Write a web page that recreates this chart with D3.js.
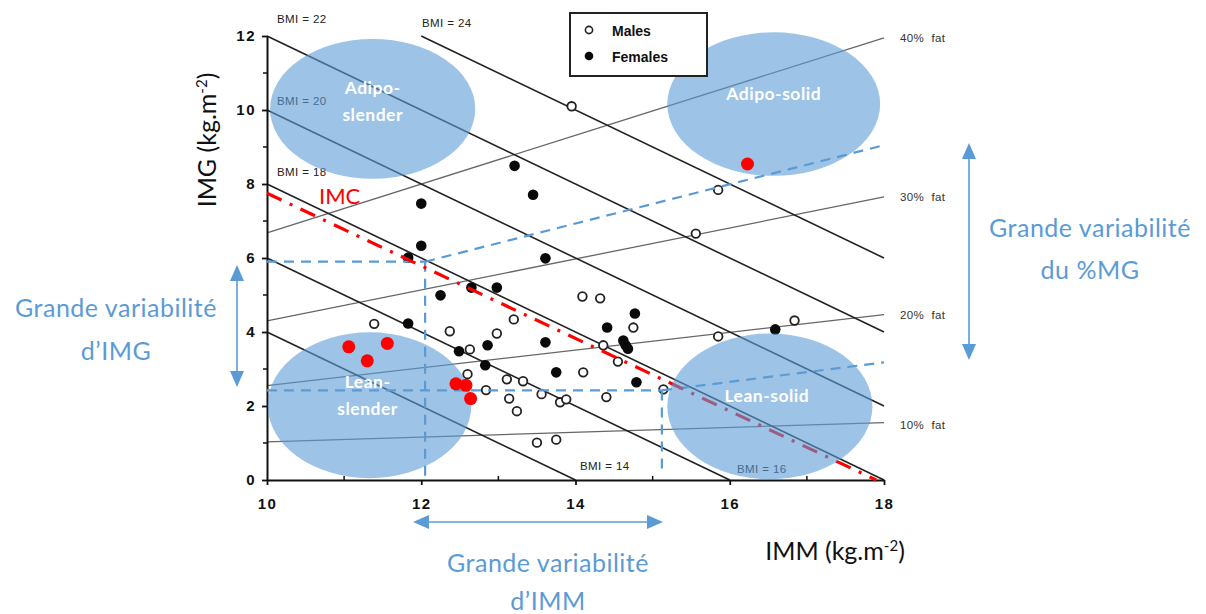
<!DOCTYPE html>
<html><head><meta charset="utf-8">
<script src="https://cdn.jsdelivr.net/npm/d3@7"></script>
<style>
html,body{margin:0;padding:0;background:#fff;}
svg{display:block;}
</style></head>
<body>
<svg id="chart" width="1206" height="614"></svg>
<script>
// ---------- data ----------
// Males: open circles [IMM, IMG]
const males = [
  [13.95,10.1],[15.85,7.84],[15.56,6.66],[11.39,4.22],[13.2,4.34],[12.37,4.02],
  [12.98,3.96],[12.63,3.53],[14.09,4.96],[14.32,4.91],[14.75,4.12],[14.36,3.64],
  [14.55,3.2],[14.1,2.91],[12.6,2.86],[13.11,2.72],[13.32,2.67],[12.84,2.43],
  [13.14,2.2],[13.24,1.86],[13.56,2.32],[13.8,2.1],[13.88,2.18],[14.4,2.24],
  [15.14,2.45],[13.5,1.01],[13.75,1.09],[15.85,3.88],[16.84,4.31]
];
// Females: filled circles
const females = [
  [13.21,8.49],[13.45,7.71],[12.0,7.47],[12.0,6.33],[11.83,6.01],[13.61,5.99],
  [12.65,5.2],[12.98,5.2],[12.25,4.99],[11.83,4.23],[12.86,3.64],[13.61,3.72],
  [12.49,3.48],[12.83,3.1],[14.77,4.5],[14.41,4.12],[14.62,3.77],[14.65,3.64],
  [14.68,3.55],[13.75,2.91],[14.79,2.64],[16.59,4.07]
];
// Highlighted (red) subjects
const highlighted = [
  [11.06,3.6],[11.3,3.22],[11.56,3.69],[12.45,2.6],[12.58,2.56],[12.64,2.2],[16.23,8.54]
];
// BMI iso-lines (IMG = BMI - IMM)
const bmiLevels = [14,16,18,20,22,24];
const bmiLabels = ["BMI = 14","BMI = 16","BMI = 18","BMI = 20","BMI = 22","BMI = 24"];
// %fat lines: IMG at IMM=10 and IMM=18 as drawn
const fatLabels = ["10%  fat","20%  fat","30%  fat","40%  fat"];
const fatStart = [1.03,2.55,4.3,6.68];
const fatEnd   = [1.55,4.47,7.65,11.95];
// IMC line endpoints [IMM, IMG]
const imcLine = [[10,7.75],[17.9,0]];
// blue dashed guide lines
const blueLines = [
  [[10,5.9],[12.05,5.9]],[[12.05,5.9],[12.05,0]],[[12.05,5.9],[18,9.05]],
  [[10,2.42],[15.12,2.42]],[[15.12,2.42],[15.12,0.2]],[[15.12,2.42],[18,3.18]]
];
// zones: name lines, centre [IMM, IMG], radii [IMM units, IMG units]
const zoneNames = [["Adipo-","slender"],["Adipo-solid"],["Lean-","slender"],["Lean-solid"]];
const zoneCentres = [[11.37,10.03],[16.57,10.16],[11.33,2.02],[16.52,1.99]];
const zoneRadii = [[1.33,1.89],[1.38,1.94],[1.32,1.97],[1.33,1.97]];
const xTicks = [10,12,14,16,18];
const yTicks = [0,2,4,6,8,10,12];
const xMinor = [11,13,15,17];
const yMinor = [1,3,5,7,9,11];

// ---------- drawing ----------
const svg = d3.select("#chart");
const x = d3.scaleLinear().domain([10,18]).range([267,884]);
const y = d3.scaleLinear().domain([0,12]).range([480,36]);
const BLUE = "#5B9BD5";
const line = d3.line().x(d=>x(d[0])).y(d=>y(d[1]));

// fat lines
const gFat = svg.append("g");
fatStart.forEach((s,i)=>{
  gFat.append("path").attr("d", line([[10,s],[18,fatEnd[i]]]))
    .attr("fill","none").attr("stroke","#666").attr("stroke-width",1.3);
  gFat.append("text").attr("x",x(18)+16).attr("y",y(fatEnd[i])+4 + (i===0?2:0))
    .attr("font-family","Liberation Sans, Arial").attr("font-size",11.5).attr("fill","#333")
    .attr("letter-spacing",0.4).attr("xml:space","preserve")
    .text(fatLabels[i]);
});

// BMI lines
const gBmi = svg.append("g");
bmiLevels.forEach((b)=>{
  const x0 = Math.max(10, b-12), x1 = Math.min(18, b);
  gBmi.append("path").attr("d", line([[x0,b-x0],[x1,b-x1]]))
    .attr("fill","none").attr("stroke","#222").attr("stroke-width",1.6);
});
const bmiLabelPos = {14:[580,470],16:[737,473],18:[277,176],20:[277,105],22:[277,23],24:[422,27]};
bmiLevels.forEach((b,i)=>{
  gBmi.append("text").attr("x",bmiLabelPos[b][0]).attr("y",bmiLabelPos[b][1])
    .attr("font-family","Liberation Sans, Arial").attr("font-size",11.5).attr("fill","#222")
    .attr("letter-spacing",0.4)
    .text(bmiLabels[i]);
});

// axes
const gx = svg.append("g").attr("transform",`translate(0,${y(0)})`)
  .call(d3.axisBottom(x).tickValues(xTicks).tickSize(5).tickSizeOuter(0).tickPadding(10));
const gy = svg.append("g").attr("transform",`translate(${x(10)},0)`)
  .call(d3.axisLeft(y).tickValues(yTicks).tickSize(5).tickSizeOuter(0).tickPadding(6));
[gx,gy].forEach(g=>{
  g.select(".domain").attr("stroke","#111").attr("stroke-width",2);
  g.selectAll(".tick line").attr("stroke","#111").attr("stroke-width",1.8);
  g.selectAll(".tick text").attr("font-family","Liberation Sans, Arial").attr("font-weight","bold")
   .attr("font-size",15).attr("fill","#111").attr("letter-spacing",1.5);
});
gx.selectAll(".tick text").attr("dy","0.9em");
svg.append("g").selectAll("line").data(xMinor).join("line")
  .attr("x1",d=>x(d)).attr("x2",d=>x(d)).attr("y1",y(0)).attr("y2",y(0)-4)
  .attr("stroke","#111").attr("stroke-width",1.5);
svg.append("g").selectAll("line").data(yMinor).join("line")
  .attr("x1",x(10)-4).attr("x2",x(10)).attr("y1",d=>y(d)).attr("y2",d=>y(d))
  .attr("stroke","#111").attr("stroke-width",1.5);

// points
svg.append("g").selectAll("circle").data(males).join("circle")
  .attr("cx",d=>x(d[0])).attr("cy",d=>y(d[1])).attr("r",4.3)
  .attr("fill","#fff").attr("stroke","#222").attr("stroke-width",1.8);
svg.append("g").selectAll("circle").data(females).join("circle")
  .attr("cx",d=>x(d[0])).attr("cy",d=>y(d[1])).attr("r",5.3)
  .attr("fill","#0a0a0a");

// blue dashed lines
svg.append("g").selectAll("path").data(blueLines).join("path")
  .attr("d",line).attr("fill","none").attr("stroke",BLUE).attr("stroke-width",2.2)
  .attr("stroke-dasharray","10,7");

// IMC line
svg.append("path").attr("d",line(imcLine)).attr("fill","none").attr("stroke","#ff0000")
  .attr("stroke-width",3.2).attr("stroke-dasharray","16,9,3,9");
svg.append("text").attr("x",319).attr("y",204).attr("font-family","Lato, Carlito, sans-serif")
  .attr("font-size",22).attr("fill","#ff0000").text("IMC");

// zones (semi-transparent ellipses)
const gZ = svg.append("g");
zoneCentres.forEach((c,i)=>{
  gZ.append("ellipse").attr("cx",x(c[0])).attr("cy",y(c[1]))
    .attr("rx",x(c[0]+zoneRadii[i][0])-x(c[0])).attr("ry",y(c[1])-y(c[1]+zoneRadii[i][1]))
    .attr("fill",BLUE).attr("fill-opacity",0.6);
});

// highlighted subjects
svg.append("g").selectAll("circle").data(highlighted).join("circle")
  .attr("cx",d=>x(d[0])).attr("cy",d=>y(d[1])).attr("r",6.5).attr("fill","#ff0000");

// zone labels
const zoneOffsets = [[0,-21],[0,-10],[-2,-23],[-3,-10]];
zoneCentres.forEach((c,i)=>{
  const t = gZ.append("text").attr("text-anchor","middle")
    .attr("font-family","Lato, Carlito, sans-serif").attr("font-weight","bold")
    .attr("font-size",17.5).attr("letter-spacing",0.5).attr("fill","#fff");
  zoneNames[i].forEach((n,j)=>{
    t.append("tspan").attr("x",x(c[0])+zoneOffsets[i][0])
      .attr("y",y(c[1])+zoneOffsets[i][1]+6+j*27).text(n);
  });
});

// legend
const lg = svg.append("g");
lg.append("rect").attr("x",570).attr("y",13).attr("width",137).attr("height",63)
  .attr("fill","#fff").attr("stroke","#222").attr("stroke-width",2);
lg.append("circle").attr("cx",589).attr("cy",30).attr("r",3.6).attr("fill","#fff")
  .attr("stroke","#222").attr("stroke-width",1.6);
lg.append("circle").attr("cx",589).attr("cy",56).attr("r",4.3).attr("fill","#0a0a0a");
lg.append("text").attr("x",612).attr("y",36).attr("font-family","Liberation Sans, Arial")
  .attr("font-weight","bold").attr("font-size",14).attr("fill","#111").text("Males");
lg.append("text").attr("x",612).attr("y",62).attr("font-family","Liberation Sans, Arial")
  .attr("font-weight","bold").attr("font-size",14).attr("fill","#111").text("Females");

// axis titles
const xt = svg.append("text").attr("x",835).attr("y",560).attr("text-anchor","middle")
  .attr("font-family","Lato, Carlito, sans-serif").attr("font-size",25).attr("fill","#111");
xt.append("tspan").text("IMM (kg.m");
xt.append("tspan").attr("dy",-9).attr("font-size",15).text("-2");
xt.append("tspan").attr("dy",9).text(")");
const yt = svg.append("text").attr("transform","translate(216,140) rotate(-90)")
  .attr("text-anchor","middle")
  .attr("font-family","Lato, Carlito, sans-serif").attr("font-size",25).attr("fill","#111");
yt.append("tspan").text("IMG (kg.m");
yt.append("tspan").attr("dy",-9).attr("font-size",15).text("-2");
yt.append("tspan").attr("dy",9).text(")");

// variability arrows
function vArrow(cx, y0, y1){
  svg.append("line").attr("x1",cx).attr("x2",cx).attr("y1",y0+12).attr("y2",y1-12)
    .attr("stroke",BLUE).attr("stroke-width",1.6);
  svg.append("path").attr("d",`M${cx},${y0} L${cx-7},${y0+16} L${cx+7},${y0+16}Z`).attr("fill",BLUE);
  svg.append("path").attr("d",`M${cx},${y1} L${cx-7},${y1-16} L${cx+7},${y1-16}Z`).attr("fill",BLUE);
}
function hArrow(cy, x0, x1){
  svg.append("line").attr("x1",x0+12).attr("x2",x1-12).attr("y1",cy).attr("y2",cy)
    .attr("stroke",BLUE).attr("stroke-width",1.6);
  svg.append("path").attr("d",`M${x0},${cy} L${x0+16},${cy-7} L${x0+16},${cy+7}Z`).attr("fill",BLUE);
  svg.append("path").attr("d",`M${x1},${cy} L${x1-16},${cy-7} L${x1-16},${cy+7}Z`).attr("fill",BLUE);
}
vArrow(969,143,360);
vArrow(237,265,387);
hArrow(522,413,663);

function blueText(cx, cy, txt){
  svg.append("text").attr("x",cx).attr("y",cy).attr("text-anchor","middle")
    .attr("font-family","Lato, Carlito, sans-serif").attr("font-size",25)
    .attr("letter-spacing",0.5).attr("fill",BLUE).text(txt);
}
blueText(1090,237,"Grande variabilité");
blueText(1090,279,"du %MG");
blueText(116,317,"Grande variabilité");
blueText(116,360,"d’IMG");
blueText(548,572,"Grande variabilité");
blueText(548,610,"d’IMM");
</script>
</body></html>
